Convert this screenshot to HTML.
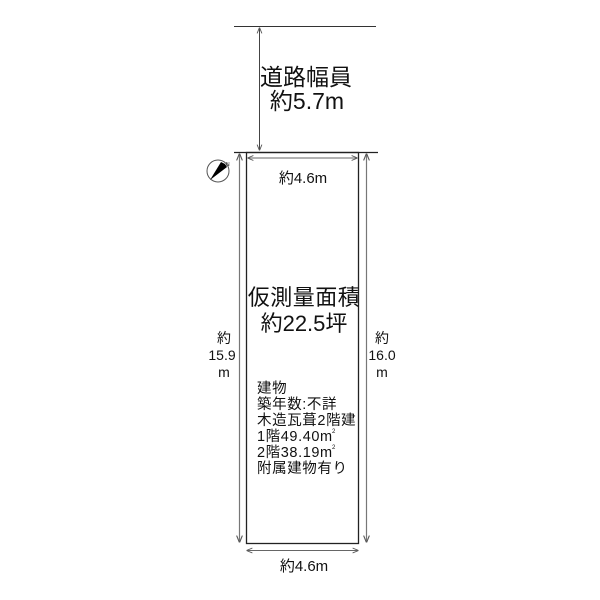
<!DOCTYPE html>
<html><head><meta charset="utf-8"><style>
html,body{margin:0;padding:0;background:#fff;}
svg{display:block}
text{font-family:"Liberation Sans","Noto Sans CJK JP",sans-serif;fill:#111}
</style></head><body>
<svg width="600" height="600" viewBox="0 0 600 600" xmlns="http://www.w3.org/2000/svg">
<defs>
<marker id="a" viewBox="0 0 10 10" refX="9" refY="5" markerWidth="6" markerHeight="6" orient="auto-start-reverse">
<path d="M0,1 L10,5 L0,9" fill="none" stroke="#555" stroke-width="1.5"/>
</marker>
</defs>
<line x1="234" y1="26.5" x2="376" y2="26.5" stroke="#333" stroke-width="1"/>
<line x1="259.5" y1="28" x2="259.5" y2="150" stroke="#444" stroke-width="1" marker-start="url(#a)" marker-end="url(#a)"/>
<line x1="234" y1="152.5" x2="378" y2="152.5" stroke="#222" stroke-width="1.2"/>
<rect x="246.5" y="152.5" width="112" height="391" fill="none" stroke="#222" stroke-width="1.3"/>
<line x1="248" y1="158" x2="357" y2="158" stroke="#666" stroke-width="1" marker-start="url(#a)" marker-end="url(#a)"/>
<line x1="239.5" y1="154" x2="239.5" y2="542" stroke="#777" stroke-width="1.2" marker-start="url(#a)" marker-end="url(#a)"/>
<line x1="366.5" y1="154" x2="366.5" y2="542" stroke="#777" stroke-width="1.2" marker-start="url(#a)" marker-end="url(#a)"/>
<line x1="247" y1="550.5" x2="358" y2="550.5" stroke="#666" stroke-width="1" marker-start="url(#a)" marker-end="url(#a)"/>
<circle cx="218" cy="171" r="11" fill="#fff" stroke="#555" stroke-width="1"/>
<path d="M210,180 L225,164 L227,167 Z M210,180 L225,164 L221,162 Z" fill="#000"/>
<text x="226" y="166" font-size="5">N</text>
<text x="306" y="85" font-size="23" text-anchor="middle">道路幅員</text>
<text x="307" y="109" font-size="23" text-anchor="middle">約5.7m</text>
<text x="303" y="183" font-size="15" text-anchor="middle">約4.6m</text>
<text x="304" y="305" font-size="22" text-anchor="middle" letter-spacing="0.5">仮測量面積</text>
<text x="304" y="331" font-size="22" text-anchor="middle">約22.5坪</text>
<text x="224" y="343" font-size="14" text-anchor="middle">約</text>
<text x="222" y="360" font-size="14" text-anchor="middle">15.9</text>
<text x="224" y="377" font-size="14" text-anchor="middle">m</text>
<text x="382" y="343" font-size="14" text-anchor="middle">約</text>
<text x="382" y="360" font-size="14" text-anchor="middle">16.0</text>
<text x="382" y="377" font-size="14" text-anchor="middle">m</text>
<g font-size="14.5" letter-spacing="0.6">
<text x="257" y="393">建物</text>
<text x="257" y="409">築年数:不詳</text>
<text x="257" y="425">木造瓦葺2階建</text>
<text x="257" y="441">1階49.40m</text>
<text x="257" y="457">2階38.19m</text>
<text x="257" y="473">附属建物有り</text>
</g>
<text x="332" y="433" font-size="6">2</text>
<text x="332" y="449" font-size="6">2</text>
<text x="304" y="571" font-size="15" text-anchor="middle">約4.6m</text>
</svg>
</body></html>
